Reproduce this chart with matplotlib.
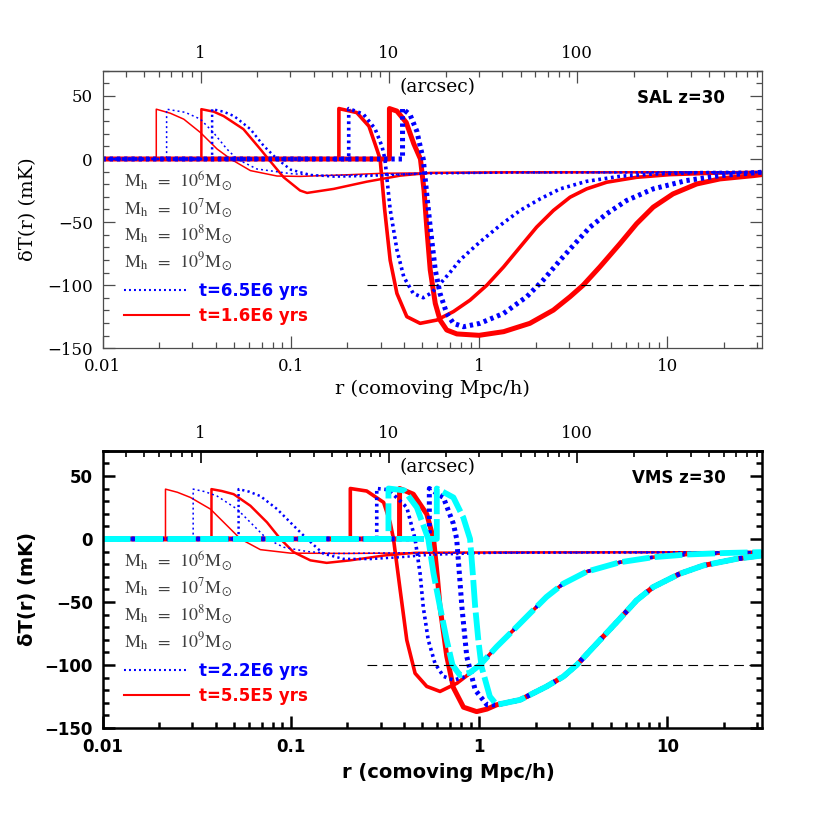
import numpy as np
import matplotlib as mpl
mpl.use('Agg')
import matplotlib.pyplot as plt
from matplotlib.lines import Line2D
from matplotlib.ticker import LogLocator, MultipleLocator, NullFormatter

plt.rcParams['lines.scale_dashes'] = False
plt.rcParams['mathtext.fontset'] = 'stix'

ARCSEC = 0.0332   # comoving Mpc/h per arcsec at z=30

# ---- SAL z=30, t=6.5E6 yrs (blue dotted), profile from the front outwards
r_sal_b6 = [0.0219, 0.0275, 0.0331, 0.0388, 0.0457, 0.0518, 0.066, 0.1, 0.138, 0.3, 0.6, 31.6]
dT_sal_b6 = [39.5, 37, 31.6, 21, 8, 0, -7.9, -11.6, -13, -12.5, -11, -10.5]
r_sal_b7 = [0.0382, 0.044, 0.05, 0.061, 0.0717, 0.0845, 0.1, 0.127, 0.17, 0.25, 0.5, 1.5, 31.6]
dT_sal_b7 = [39.5, 37.5, 34, 23.7, 10.5, 0, -8.5, -12.6, -14, -13.5, -11.5, -10.7, -10.5]
r_sal_b8 = [0.203, 0.243, 0.28, 0.305, 0.316, 0.337, 0.366, 0.398, 0.447, 0.505, 0.56, 0.62,
            0.7, 0.793, 0.9, 1.01, 1.29, 1.65, 2.11, 2.69, 3.72, 5.6, 8.4, 15, 31.6]
dT_sal_b8 = [40, 35.5, 24, 10, 0, -40, -72, -93.5, -106.6, -110, -106, -99,
             -90, -80, -72.5, -65.8, -52.7, -40.8, -31.6, -23.7, -17.7, -13.7, -11.9, -10.8, -10.5]
r_sal_b9 = [0.392, 0.43, 0.467, 0.49, 0.505, 0.527, 0.55, 0.585, 0.62, 0.673, 0.73, 0.826,
            1.01, 1.35, 1.79, 2.19, 2.69, 3.17, 3.88, 4.76, 6.07, 8.4, 12.6, 19, 31.6]
dT_sal_b9 = [40, 35, 22, 8, 0, -27.7, -54, -88, -106.6, -122.4, -130.3, -133,
             -130.3, -122.4, -109.2, -96, -80.3, -68.4, -54, -43.4, -32.9, -23.7, -17.1, -13.2, -10.5]

# ---- SAL z=30, t=1.6E6 yrs (red solid)
r_sal_r6 = [0.0193, 0.0229, 0.027, 0.0331, 0.0406, 0.0479, 0.061, 0.0845, 0.112, 0.2, 0.31, 1.0, 31.6]
dT_sal_r6 = [39.5, 36.3, 31.6, 21, 7.9, 0, -9.2, -13.5, -13.8, -12.5, -11.3, -10.7, -10.5]
r_sal_r7 = [0.0335, 0.039, 0.044, 0.056, 0.0688, 0.076, 0.0916, 0.112, 0.122, 0.169, 0.253,
            0.381, 0.55, 1.5, 31.6]
dT_sal_r7 = [39.5, 37.5, 34, 23.7, 7.9, 0, -14.5, -25, -26.9, -23.7, -18,
             -13.2, -11, -10.5, -10.5]
r_sal_r8 = [0.18, 0.224, 0.26, 0.286, 0.298, 0.315, 0.337, 0.366, 0.413, 0.486, 0.596, 0.73,
            0.895, 1.1, 1.35, 1.65, 2.02, 2.48, 3.04, 3.72, 4.76, 6.86, 10.3, 19, 31.6]
dT_sal_r8 = [40, 36.8, 26, 8, 0, -40, -80.3, -106.6, -125, -130.3, -127.7, -121,
             -111.9, -100, -85.5, -69.8, -54, -40.8, -30.3, -23.7, -18.4, -14.5, -12.4, -11.1, -10.5]
r_sal_r9 = [0.334, 0.366, 0.41, 0.45, 0.488, 0.51, 0.527, 0.55, 0.585, 0.62, 0.673, 0.762,
            1.0, 1.35, 1.86, 2.48, 3.04, 3.57, 4.38, 5.6, 6.86, 8.4, 10.7, 14.3, 19, 28.5, 31.6]
dT_sal_r9 = [40, 38, 29, 12, 0, -25, -54, -88, -114.5, -127.7, -135.6, -138.7,
             -139.8, -136.9, -130.3, -119.8, -109.2, -100, -85.5, -67.1, -51.3, -38.2, -27.7,
             -19.8, -15.8, -13.2, -12.4]

# ---- VMS z=30, t=2.2E6 yrs (blue dotted)
r_vms_b6 = [0.0303, 0.035, 0.0406, 0.0518, 0.0635, 0.0747, 0.0916, 0.122, 0.169, 0.4, 31.6]
dT_vms_b6 = [39.5, 37.5, 34, 23.7, 10.5, 0, -6.6, -10, -11.6, -11, -10.5]
r_vms_b7 = [0.0528, 0.06, 0.0689, 0.0845, 0.1035, 0.122, 0.149, 0.19, 0.263, 0.381, 0.55, 1.2, 31.6]
dT_vms_b7 = [39.5, 37.5, 34, 23.7, 10.5, 0, -11.8, -15.8, -16, -14.5, -12.6, -11, -10.5]
r_vms_b8 = [0.286, 0.33, 0.413, 0.457, 0.486, 0.505, 0.537, 0.583, 0.646, 0.73, 0.82, 0.895]
dT_vms_b8 = [40, 39, 25, 0, -27.7, -54, -80.3, -98.7, -109, -112, -110, -106.6]
r_vms_b9 = [0.544, 0.646, 0.73, 0.76, 0.785, 0.81, 0.86, 0.953, 1.1]
dT_vms_b9 = [40, 32.9, 12, 0, -27, -54, -93.4, -119.8, -131.6]

# ---- VMS z=30, t=5.5E5 yrs (red solid)
r_vms_r6 = [0.0216, 0.025, 0.0293, 0.0374, 0.0459, 0.054, 0.0689, 0.1, 0.2, 1.0, 31.6]
dT_vms_r6 = [39.5, 37, 32.9, 23.7, 10.5, 0, -8.5, -11.3, -11.5, -10.8, -10.5]
r_vms_r7 = [0.0379, 0.043, 0.0497, 0.061, 0.0747, 0.088, 0.1035, 0.127, 0.155, 0.207, 0.311,
            0.46, 1.5, 31.6]
dT_vms_r7 = [39.5, 38, 35.5, 26.3, 13.2, 0, -10.5, -17, -19, -17, -13.2, -11, -10.7, -10.5]
r_vms_r8 = [0.207, 0.253, 0.311, 0.337, 0.351, 0.381, 0.413, 0.457, 0.527, 0.62, 0.762, 0.895]
dT_vms_r8 = [40, 38, 29, 13, 0, -40.8, -80.3, -106.6, -117, -121, -114.5, -106.6]
r_vms_r9 = [0.378, 0.447, 0.527, 0.573, 0.6, 0.62, 0.673, 0.73, 0.826, 0.97, 1.1]
dT_vms_r9 = [40, 35.5, 19.7, 0, -30, -54, -93, -118, -133.5, -137, -135]

# ---- VMS z=30, cyan dashed (two largest haloes)
r_vms_c8 = [0.33, 0.4, 0.467, 0.537, 0.573, 0.62, 0.673, 0.722, 0.79, 0.895]
dT_vms_c8 = [40, 38.5, 25, 0, -27.6, -54, -80.3, -100, -108, -106]
r_vms_c9 = [0.596, 0.73, 0.824, 0.895, 0.925, 0.953, 0.99, 1.03, 1.14]
dT_vms_c9 = [40, 32.9, 17, 0, -27, -54, -80, -101.4, -125]

# common outer tails of the VMS 1e8 and 1e9 profiles
r_vms_tail8 = [1.01, 1.24, 1.52, 1.86, 2.28, 2.8, 3.72, 5.6, 8.4, 12.6, 20, 31.6]
dT_vms_tail8 = [-100, -85.5, -72.4, -59.2, -46, -35.5, -26, -18.5, -14.5, -12.4, -11.2, -10.5]
r_vms_tail9 = [1.24, 1.65, 2.28, 2.8, 3.3, 4.38, 5.6, 6.86, 8.4, 11.6, 15.5, 23.3, 31.6]
dT_vms_tail9 = [-131.6, -127.7, -117.1, -109.2, -100, -80.3, -63.2, -48.7, -38.2, -27.7,
                -21.1, -15.8, -13.2]

mass_exp = [6, 7, 8, 9]
dT_ref = -100
r_ref_start = 0.255

widths = [1.1, 1.8, 2.6, 3.6]
dots = [(1.4, 2.2), (1.6, 2.3), (2.0, 2.6), (2.4, 2.8)]

SERIF = ['DejaVu Serif']
SANS = ['DejaVu Sans']


def with_core(r, dT):
    # ionised core: dT = 0 from the inner edge out to the front
    return [0.01, r[0]] + list(r), [0, 0] + list(dT)


def setup(ax, bold, label, t_labels):
    fam = SANS if bold else SERIF
    wt = 'bold' if bold else 'normal'
    col = 'black' if bold else '0.3'
    lw = 1.8 if bold else 0.9
    ax.set_xscale('log')
    ax.set_xlim(0.01, 31.6)
    ax.set_ylim(-150, 70)
    for s in ax.spines.values():
        s.set_linewidth(lw)
        s.set_color(col)
    xt = [0.01, 0.1, 1, 10]
    ax.set_xticks(xt, ['0.01', '0.1', '1', '10'], fontfamily=fam, fontweight=wt, fontsize=12)
    ax.xaxis.set_minor_locator(LogLocator(subs=np.arange(2, 10)))
    ax.xaxis.set_minor_formatter(NullFormatter())
    yt = [-150, -100, -50, 0, 50]
    ax.set_yticks(yt, [f'{v:g}'.replace('-', '\u2212') for v in yt],
                  fontfamily=fam, fontweight=wt, fontsize=12)
    ax.yaxis.set_minor_locator(MultipleLocator(10))
    ax.tick_params(which='both', direction='in', top=False, right=True,
                   color=col, width=lw)
    ax.tick_params(which='major', length=8.5, pad=7)
    ax.tick_params(which='minor', length=4.3)

    sec = ax.secondary_xaxis('top', functions=(lambda r: r / ARCSEC, lambda a: a * ARCSEC))
    sec.set_xticks([1, 10, 100], ['1', '10', '100'], fontfamily=SERIF, fontsize=12)
    sec.xaxis.set_minor_locator(LogLocator(subs=np.arange(2, 10)))
    sec.xaxis.set_minor_formatter(NullFormatter())
    sec.tick_params(which='both', direction='in', color=col, width=min(lw, 1.2), pad=6)
    sec.tick_params(which='major', length=8.5)
    sec.tick_params(which='minor', length=4.3)
    sec.spines['top'].set_linewidth(lw)
    sec.spines['top'].set_color(col)

    ax.set_xlabel('r (comoving Mpc/h)', fontfamily=fam, fontweight=wt, fontsize=14)
    ax.set_ylabel('\u03b4T(r) (mK)', fontfamily=fam, fontweight=wt, fontsize=14)
    ax.yaxis.set_label_coords(-0.1, 0.5)
    if bold:
        ax.xaxis.set_label_coords(0.525, -0.125)
    else:
        ax.xaxis.set_label_coords(0.5, -0.115)

    ax.axhline(dT_ref, xmin=(np.log10(r_ref_start) + 2) / 3.5, color='black',
               lw=0.8, dashes=(7, 4))
    ax.text(0.509, 0.942, '(arcsec)', transform=ax.transAxes,
            ha='center', va='center', fontfamily=SERIF, fontsize=13.5)
    ax.text(0.945, 0.9, label, transform=ax.transAxes, ha='right', va='center',
            fontfamily=SANS, fontweight='bold', fontsize=12)
    for m, yy in zip(mass_exp, [0.599, 0.505, 0.408, 0.311]):
        ax.text(0.032, yy, r'$\mathrm{M_h\;\;=\;\;10^{%d}M_{\odot}}$' % m, transform=ax.transAxes,
                ha='left', va='center', fontsize=13, color='0.25')
    h1 = Line2D([], [], color='blue', lw=1.5, dashes=dots[0])
    h2 = Line2D([], [], color='red', lw=1.5)
    leg = ax.legend([h1, h2], t_labels, loc='center left', bbox_to_anchor=(0.032, 0.161),
                    frameon=False, borderpad=0, borderaxespad=0, handlelength=3.9,
                    handletextpad=0.65, labelspacing=0.4,
                    prop={'family': SANS, 'weight': 'bold', 'size': 12})
    for txt, c in zip(leg.get_texts(), ['blue', 'red']):
        txt.set_color(c)


fig = plt.figure(figsize=(8.3, 8.3), dpi=100)
ax1 = fig.add_axes([0.1235, 0.5805, 0.794, 0.3343])
ax2 = fig.add_axes([0.1235, 0.1229, 0.794, 0.3341])

# top panel
sal_red = [(r_sal_r6, dT_sal_r6), (r_sal_r7, dT_sal_r7), (r_sal_r8, dT_sal_r8), (r_sal_r9, dT_sal_r9)]
sal_blue = [(r_sal_b6, dT_sal_b6), (r_sal_b7, dT_sal_b7), (r_sal_b8, dT_sal_b8), (r_sal_b9, dT_sal_b9)]
for i, (r, t) in enumerate(sal_red):
    ax1.plot(*with_core(r, t), color='red', lw=widths[i])
for i, (r, t) in enumerate(sal_blue):
    ax1.plot(*with_core(r, t), color='blue', lw=widths[i], dashes=dots[i])
setup(ax1, False, 'SAL z=30', ['t=6.5E6 yrs', 't=1.6E6 yrs'])

# bottom panel
vms_red = [(r_vms_r6, dT_vms_r6), (r_vms_r7, dT_vms_r7),
           (r_vms_r8 + r_vms_tail8, dT_vms_r8 + dT_vms_tail8),
           (r_vms_r9 + r_vms_tail9, dT_vms_r9 + dT_vms_tail9)]
vms_blue = [(r_vms_b6, dT_vms_b6), (r_vms_b7, dT_vms_b7),
            (r_vms_b8 + r_vms_tail8, dT_vms_b8 + dT_vms_tail8),
            (r_vms_b9 + r_vms_tail9, dT_vms_b9 + dT_vms_tail9)]
vms_cyan = [(r_vms_c8 + r_vms_tail8, dT_vms_c8 + dT_vms_tail8),
            (r_vms_c9 + r_vms_tail9, dT_vms_c9 + dT_vms_tail9)]
for i, (r, t) in enumerate(vms_red):
    ax2.plot(*with_core(r, t), color='red', lw=widths[i])
for i, (r, t) in enumerate(vms_blue):
    ax2.plot(*with_core(r, t), color='blue', lw=widths[i], dashes=dots[i])
for r, t in vms_cyan:
    ax2.plot(*with_core(r, t), color='cyan', lw=4.2, dashes=(20, 3.5))
setup(ax2, True, 'VMS z=30', ['t=2.2E6 yrs', 't=5.5E5 yrs'])

fig.savefig('out.png', dpi=100)
